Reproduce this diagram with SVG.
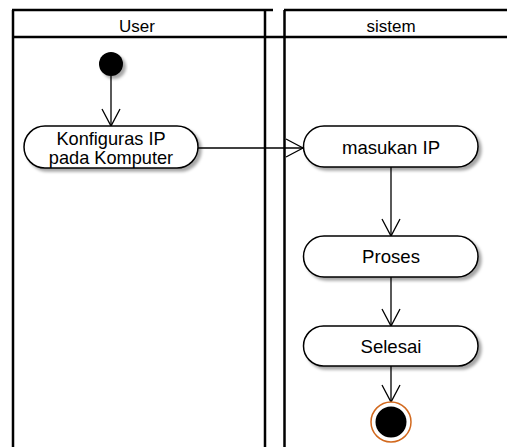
<svg xmlns="http://www.w3.org/2000/svg" width="507" height="447" viewBox="0 0 507 447">
<style>
.lane{fill:none;stroke:#000;stroke-width:2.5}
.act{fill:#fff;stroke:#000;stroke-width:1.5;filter:url(#sh)}
.t{font-family:"Liberation Sans",Arial,sans-serif;font-size:18.6px;fill:#000;text-anchor:middle}
.t2{font-family:"Liberation Sans",Arial,sans-serif;font-size:18.2px;fill:#000;text-anchor:middle}
.h{font-family:"Liberation Sans",Arial,sans-serif;font-size:17px;fill:#000;text-anchor:middle}
.edge{fill:none;stroke:#000;stroke-width:1.3;marker-end:url(#arr)}
</style>
<defs>
<filter id="sh" x="-20%" y="-30%" width="140%" height="170%">
<feDropShadow dx="3" dy="3" stdDeviation="1.5" flood-color="#000" flood-opacity="0.35"/>
</filter>
<marker id="arr" markerUnits="userSpaceOnUse" markerWidth="22" markerHeight="22" refX="18" refY="10" orient="auto" viewBox="0 0 22 20">
<path d="M1,1 L18,10 L1,19" fill="none" stroke="#000" stroke-width="1.3"/>
</marker>
</defs>
<g id="lanes">
<g id="lane-user">
<path class="lane" d="M12,10 H273 M13,10 V447 M265,10 V447"/>
<text class="h" x="137" y="32">User</text>
</g>
<g id="lane-sistem">
<path class="lane" d="M284,10 H507 M284.5,10 V447"/>
<text class="h" x="391" y="32">sistem</text>
</g>
<path class="lane" d="M12,37 H507"/>
</g>
<g id="connectors">
<path class="edge" d="M111,76 V126"/>
<path class="edge" d="M198,148 H303"/>
<path class="edge" d="M391,167 V236"/>
<path class="edge" d="M391,277 V326"/>
<path class="edge" d="M391,366 V402"/>
</g>
<g id="start">
<circle cx="111" cy="64" r="12" fill="#000" filter="url(#sh)"/>
</g>
<g id="konfigurasi">
<rect class="act" x="24" y="126" width="174" height="42" rx="21"/>
<text class="t2" x="111" y="144.5">Konfiguras IP</text>
<text class="t2" x="111" y="164">pada Komputer</text>
</g>
<g id="masukan">
<rect class="act" x="303.5" y="126" width="174.5" height="41" rx="20.5"/>
<text class="t" x="391" y="153.5">masukan IP</text>
</g>
<g id="proses">
<rect class="act" x="303.5" y="236" width="174.5" height="41" rx="20.5"/>
<text class="t" x="391" y="263">Proses</text>
</g>
<g id="selesai">
<rect class="act" x="303.5" y="326" width="174.5" height="40" rx="20"/>
<text class="t" x="391" y="352.5">Selesai</text>
</g>
<g id="end">
<circle cx="391" cy="422" r="20" fill="#fff" stroke="#d2691e" stroke-width="1.5"/>
<circle cx="391" cy="422" r="15.5" fill="#000"/>
</g>
</svg>
